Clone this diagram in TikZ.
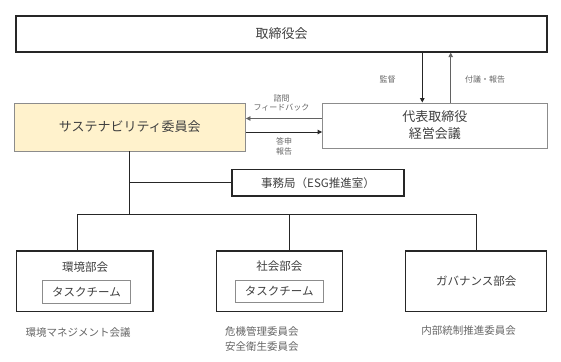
\documentclass[tikz,border=0pt]{standalone}
\usepackage{fontspec}
\setmainfont{Noto Sans CJK JP}
\usetikzlibrary{arrows.meta}
\definecolor{txt}{HTML}{404040}
\definecolor{lbl}{HTML}{666666}
\definecolor{sus}{HTML}{FFF2CC}
\definecolor{edge}{HTML}{262626}
\definecolor{gedge}{HTML}{8C8C8C}
\tikzset{
  boxthick/.style={draw=edge, line width=1.3pt, inner sep=0pt, text=txt},
  boxthin/.style={draw=gedge, line width=0.9pt, inner sep=0pt, text=txt},
  smalllbl/.style={text=lbl, font=\fontsize{8}{9.5}\selectfont, inner sep=0pt, align=center},
  bottomlbl/.style={text=lbl, font=\fontsize{10.5}{15}\selectfont, inner sep=0pt},
  conn/.style={draw=edge, line width=0.8pt},
  tip/.style={-{Triangle[length=4.5pt,width=4.5pt]}}
}
\begin{document}
\begin{tikzpicture}[x=1pt,y=-1pt]
\useasboundingbox[fill=white] (0,0) rectangle (561,361);
% boxes
\node[boxthick, minimum width=531pt, minimum height=36pt, font=\fontsize{13}{15}\selectfont] (top) at (281.5,34) {取締役会};
\node[boxthin, fill=sus, minimum width=231.5pt, minimum height=48pt, font=\fontsize{13}{15}\selectfont] (sus) at (129.75,127) {サステナビリティ委員会};
\node[boxthin, minimum width=224.5pt, minimum height=45pt, align=center, font=\fontsize{13}{17}\selectfont] (dai) at (434.75,125.5) {代表取締役\\経営会議};
\node[boxthick, minimum width=172pt, minimum height=26.5pt, font=\fontsize{11.5}{13}\selectfont] (jimu) at (318,182.75) {事務局（ESG推進室）};
\node[boxthick, minimum width=136.3pt, minimum height=60.5pt] (kan) at (84.85,281.25) {};
\node[boxthick, minimum width=125.6pt, minimum height=60.5pt] (sha) at (279.5,281.25) {};
\node[boxthick, minimum width=141pt, minimum height=60.5pt, font=\fontsize{11.5}{13}\selectfont] (gov) at (476.2,281.25) {ガバナンス部会};
\node[text=txt, inner sep=0pt, font=\fontsize{11.5}{13}\selectfont] (kant) at (85,266.7) {環境部会};
\node[text=txt, inner sep=0pt, font=\fontsize{11.5}{13}\selectfont] (shat) at (279.3,266) {社会部会};
\node[boxthin, minimum width=88.4pt, minimum height=22.6pt, font=\fontsize{11.5}{13}\selectfont] (task1) at (86.5,292) {タスクチーム};
\node[boxthin, minimum width=88.3pt, minimum height=22pt, font=\fontsize{11.5}{13}\selectfont] (task2) at (279.2,291) {タスクチーム};
% vertical arrows
\coordinate (va) at (422.3,0);
\coordinate (vb) at (450.7,0);
\draw[draw=edge, line width=1.3pt, tip] (va |- top.south) -- (va |- dai.north);
\draw[draw=gedge!70!black, line width=0.9pt, tip] (vb |- dai.north) -- (vb |- top.south);
\node[smalllbl] (l1) at (387.7,79) {監督};
\node[smalllbl] (l2) at (485,79) {付議・報告};
% horizontal arrows
\coordinate (ha) at (0,118.5);
\coordinate (hb) at (0,132);
\draw[draw=gedge!70!black, line width=0.9pt, tip] (ha -| dai.west) -- (ha -| sus.east);
\draw[draw=edge, line width=0.9pt, tip] (hb -| sus.east) -- (hb -| dai.west);
\node[smalllbl] (l3) at (281.5,103) {諮問\\フィードバック};
\node[smalllbl] (l4) at (284,146.5) {答申\\報告};
% tree
\coordinate (bus) at (0,214);
\coordinate (b1) at (77,214);
\coordinate (b2) at (289.3,214);
\coordinate (b3) at (476.7,214);
\draw[conn] (sus.south) -- (sus.south |- bus);
\draw[conn] (sus.south |- jimu.west) -- (jimu.west);
\draw[conn] (b1) -- (b3);
\draw[conn] (b1) -- (b1 |- kan.north);
\draw[conn] (b2) -- (b2 |- sha.north);
\draw[conn] (b3) -- (b3 |- gov.north);
% bottom labels
\node[bottomlbl] (n1) at (78,333) {環境マネジメント会議};
\node[bottomlbl, anchor=west, align=left] (n2) at (225,338.5) {危機管理委員会\\安全衛生委員会};
\node[bottomlbl] (n3) at (468.7,331) {内部統制推進委員会};
\end{tikzpicture}
\end{document}
